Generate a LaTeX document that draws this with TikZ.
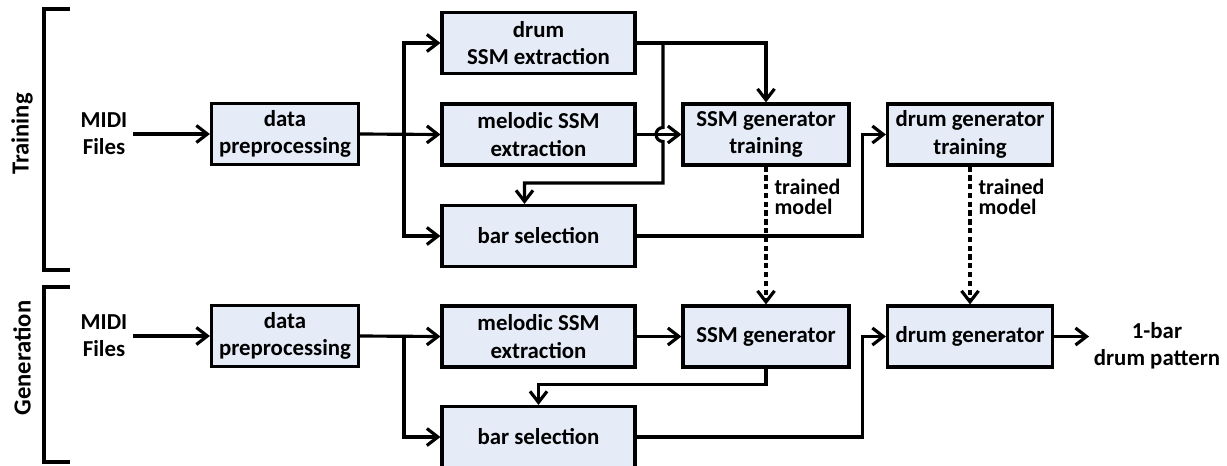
\documentclass[tikz,border=0pt]{standalone}
\usepackage{fontspec}
\setmainfont{Carlito}
\usetikzlibrary{arrows.meta,positioning}
\definecolor{boxfill}{RGB}{229,235,247}

\begin{document}
\begin{tikzpicture}[
  x=0.02cm, y=-0.02cm,
  every node/.style={font=\fontsize{13}{15.5}\selectfont\bfseries},
  block/.style={rectangle, draw, line width=1.8pt, fill=boxfill, minimum height=1.22cm, align=center, inner sep=0pt},
  arr/.style={-{Straight Barb[length=2.2mm, width=3.4mm]}, line width=1.8pt},
  model/.style={dash pattern=on 3pt off 2pt},
  lbl/.style={font=\fontsize{12.5}{11.5}\selectfont\bfseries, align=left, inner sep=1pt},
  side/.style={font=\fontsize{14}{16}\selectfont\bfseries, rotate=90},
  bracket/.style={line width=1.8pt},
]
\useasboundingbox (0,0) rectangle (1227,466);

% training row
\node[side] (train) at (22,134) {Training};
\draw[bracket] (70,9) -- (44,9) -- (44,270) -- (70,270);
\node[align=center] (midiT) at (104,134) {MIDI\\Files};
\node[block, minimum width=2.94cm] (prepT) at (285,134) {data\\preprocessing};
\node[block, minimum width=3.86cm] (drumssmT) at (538.5,43) {drum\\SSM extraction};
\node[block, minimum width=3.86cm] (melT) at (538.5,134.5) {melodic SSM\\extraction};
\node[block, minimum width=3.86cm] (barT) at (538.5,236) {bar selection};
\node[block, minimum width=3.32cm] (ssmgenT) at (766,134.5) {SSM generator\\training};
\node[block, minimum width=3.3cm] (drumgenT) at (970,134.5) {drum generator\\training};
\coordinate (splitT) at (404,134.5);
\coordinate (hopT) at (663,43);

\draw[arr] (midiT.east) -- (prepT.west);
\draw[arr] (prepT.east) -- (melT.west);
\draw[arr] (splitT) |- (drumssmT.west);
\draw[arr] (splitT) |- (barT.west);
\draw[arr] (drumssmT.east) -| (ssmgenT.north);
\draw[arr] (hopT) -- (663,127.5) arc[start angle=90, end angle=270, radius=0.14cm]
  -- (663,183) -| ([xshift=-0.28cm]barT.north);
\draw[arr] (melT.east) -- (ssmgenT.west);
\draw[arr] (barT.east) -- ++(226,0) |- (drumgenT.west);

% generation row
\node[side] (gen) at (22,358) {Generation};
\draw[bracket] (70,287) -- (44,287) -- (44,462) -- (70,462);
\node[align=center] (midiG) at (104,336) {MIDI\\Files};
\node[block, minimum width=2.94cm] (prepG) at (285,336) {data\\preprocessing};
\node[block, minimum width=3.86cm] (melG) at (538.5,336.5) {melodic SSM\\extraction};
\node[block, minimum width=3.86cm] (barG) at (538.5,437) {bar selection};
\node[block, minimum width=3.32cm] (ssmgen) at (766,336.5) {SSM generator};
\node[block, minimum width=3.3cm] (drumgen) at (970,336.5) {drum generator};
\node[align=center] (out) at (1157,346) {1-bar\\drum pattern};
\coordinate (splitG) at (404,336.5);

\draw[arr] (midiG.east) -- (prepG.west);
\draw[arr] (prepG.east) -- (melG.west);
\draw[arr] (splitG) |- (barG.west);
\draw[arr] (melG.east) -- (ssmgen.west);
\draw[arr] (ssmgen.south) -- ++(0,16) -| (barG.north);
\draw[arr] (barG.east) -- ++(226,0) |- (drumgen.west);
\draw[arr] (drumgen.east) -- ++(35,0);

% trained models
\draw[arr, model] (ssmgenT.south) -- (ssmgen.north)
  node[lbl, pos=0.22, right=3pt] {trained\\model};
\draw[arr, model] (drumgenT.south) -- (drumgen.north)
  node[lbl, pos=0.22, right=3pt] {trained\\model};

\end{tikzpicture}
\end{document}
